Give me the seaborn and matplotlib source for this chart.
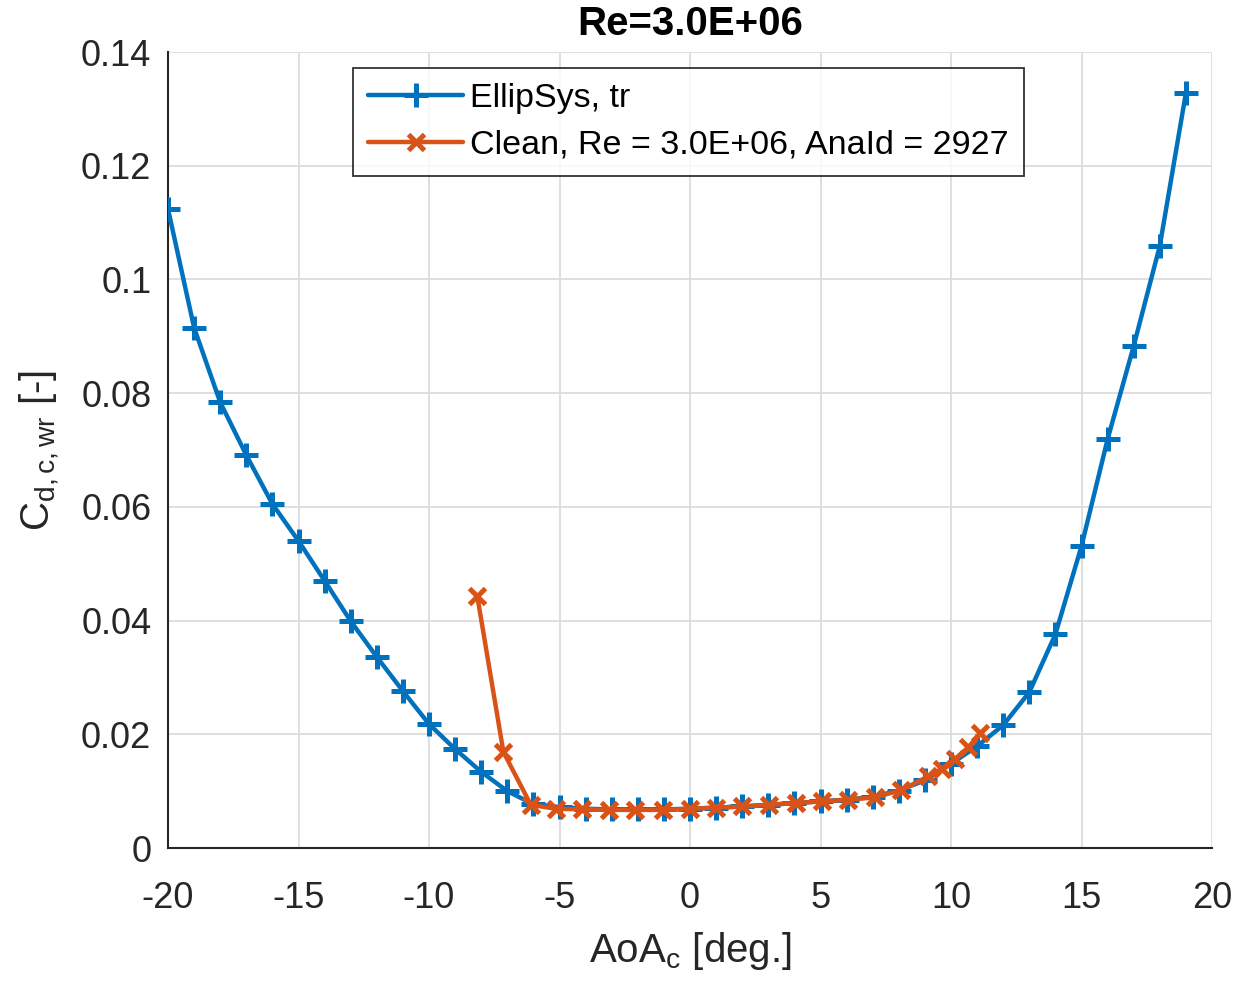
import numpy as np
import pandas as pd
import matplotlib
matplotlib.use("Agg")
import matplotlib.pyplot as plt
import seaborn as sns

# EllipSys, tr
aoa_ellip = list(range(-20, 20))
cd_ellip = [0.1124, 0.0915, 0.0784, 0.0691, 0.0605, 0.0540, 0.0470, 0.0399, 0.0336, 0.0276,
            0.0218, 0.0174, 0.0134, 0.0100, 0.0077, 0.0072, 0.0069, 0.0068, 0.0068, 0.0068,
            0.0069, 0.0071, 0.0073, 0.0076, 0.0079, 0.0082, 0.0085, 0.0090, 0.0101, 0.0119,
            0.0148, 0.0179, 0.0216, 0.0274, 0.0376, 0.0531, 0.0719, 0.0883, 0.1059, 0.1328]

# Clean, Re = 3.0E+06, AnaId = 2927
aoa_clean = [-8.15, -7.15, -6.1, -5.15, -4.15, -3.1, -2.1, -1.05, 0.0, 1.0, 2.0, 3.03,
             4.06, 5.05, 6.07, 7.09, 8.1, 9.13, 9.64, 10.15, 10.66, 11.13]
cd_clean = [0.0443, 0.0169, 0.0076, 0.0069, 0.0068, 0.0067, 0.0067, 0.0067, 0.0069, 0.0071,
            0.0073, 0.0076, 0.0079, 0.0082, 0.0085, 0.0089, 0.0102, 0.0126, 0.0139, 0.0156,
            0.0177, 0.0202]

x_ticks = [-20, -15, -10, -5, 0, 5, 10, 15, 20]
y_ticks = [0, 0.02, 0.04, 0.06, 0.08, 0.10, 0.12, 0.14]
y_tick_labels = ["0", "0.02", "0.04", "0.06", "0.08", "0.1", "0.12", "0.14"]

sns.set_style("white")
plt.rcParams["font.family"] = ["Liberation Sans", "DejaVu Sans"]
plt.rcParams["mathtext.fontset"] = "custom"
plt.rcParams["mathtext.rm"] = "Liberation Sans"
plt.rcParams["mathtext.it"] = "Liberation Sans"

df_e = pd.DataFrame({"aoa": aoa_ellip, "cd": cd_ellip})
df_c = pd.DataFrame({"aoa": aoa_clean, "cd": cd_clean})

BLUE = "#0072BD"
ORANGE = "#D95319"
DARK = "#262626"

fig = plt.figure(figsize=(12.37, 9.83), dpi=100)
ax = fig.add_axes([168 / 1237, 1 - 848 / 983, (1212 - 168) / 1237, (848 - 52) / 983])

sns.lineplot(data=df_e, x="aoa", y="cd", ax=ax, color=BLUE, lw=3.2, marker="+",
             markersize=17, markeredgewidth=3.6, markeredgecolor=BLUE, sort=False,
             label="EllipSys, tr", zorder=3)
sns.lineplot(data=df_c, x="aoa", y="cd", ax=ax, color=ORANGE, lw=3.2, marker="x",
             markersize=11.5, markeredgewidth=3.6, markeredgecolor=ORANGE, sort=False,
             label="Clean, Re = 3.0E+06, AnaId = 2927", zorder=4)

ax.set_xlim(-20, 20)
ax.set_ylim(0, 0.14)
ax.set_xticks(x_ticks)
ax.set_xticklabels([str(t) for t in x_ticks])
ax.set_yticks(y_ticks)
ax.set_yticklabels(y_tick_labels)
ax.grid(True, color="#dcdcdc", lw=1.3)
ax.set_axisbelow(True)
for s in ["top", "right"]:
    ax.spines[s].set_visible(False)
for s in ["left", "bottom"]:
    ax.spines[s].set_color(DARK)
    ax.spines[s].set_linewidth(1.5)
ax.tick_params(axis="both", direction="in", length=9, width=1.5, colors=DARK,
               labelsize=26, labelcolor=DARK)
ax.tick_params(axis="x", pad=24)
ax.tick_params(axis="y", pad=12)

ax.set_xlabel(r"AoA$_\mathrm{c}$ [deg.]", fontsize=29, color=DARK, labelpad=10)
ax.set_ylabel(r"C$_\mathrm{d,c,wr}$ [-]", fontsize=29, color=DARK, labelpad=14)
ax.set_title("Re=3.0E+06", fontsize=29, fontweight="bold", color="black", pad=12)

leg = ax.legend(loc="upper left", bbox_to_anchor=(0.177, 0.98), borderaxespad=0,
                fontsize=24.5, frameon=True, fancybox=False, edgecolor="black",
                handlelength=2.8, handletextpad=0.2, borderpad=0.45, labelspacing=0.45)
leg.get_frame().set_linewidth(1.3)
for t in leg.get_texts():
    t.set_color("black")

fig.savefig("out.png", dpi=100)
